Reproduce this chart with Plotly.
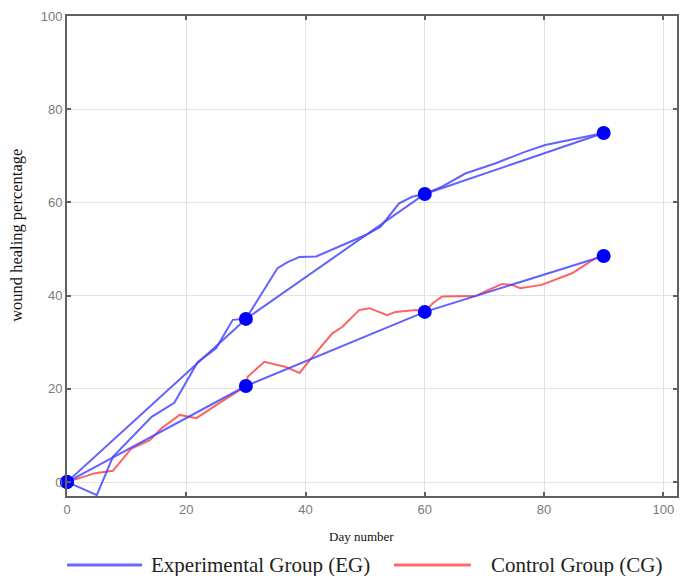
import plotly.graph_objects as go

# ---- data ----
fit_days = [0, 30, 60, 90]
eg_fit = [0, 35.0, 61.8, 74.9]
cg_fit = [0, 20.6, 36.5, 48.5]

eg_curve_days = [0, 5, 7.7, 14.2, 18, 21.9, 25, 27.8, 30, 32.5, 35.3, 37, 39, 41.8,
                 45.6, 50.1, 52.6, 54.5, 55.7, 57.9, 60, 62.9, 66.8, 71.9, 76.9,
                 80.2, 85.2, 90]
eg_curve = [0, -2.8, 5.4, 14.0, 17.0, 25.7, 28.7, 34.8, 35.0, 40.0, 45.9, 47.2, 48.3,
            48.4, 50.5, 53.0, 54.8, 58.0, 59.8, 61.2, 61.8, 63.4, 66.2, 68.4, 70.9,
            72.3, 73.7, 74.9]

cg_curve_days = [0, 4.7, 7.7, 10.8, 13.9, 15.8, 18.9, 21.7, 25, 28.4, 30, 30.3, 33.1,
                 36.7, 39, 41.2, 44.5, 46.2, 49, 50.7, 53.7, 55.1, 58.5, 60, 61.3,
                 62.9, 64.6, 68.5, 70.7, 73, 74.6, 76, 79.6, 81.9, 84.7, 86.9, 88.6, 90]
cg_curve = [0, 1.9, 2.4, 7.2, 9.0, 11.5, 14.4, 13.7, 16.5, 19.4, 20.6, 22.6, 25.8,
            24.7, 23.4, 26.9, 31.9, 33.3, 36.9, 37.3, 35.8, 36.5, 36.9, 36.5, 38.3,
            39.8, 39.8, 39.9, 41.2, 42.5, 42.3, 41.6, 42.3, 43.4, 44.8, 46.6, 48.0, 48.5]

x_ticks = [0, 20, 40, 60, 80, 100]
y_ticks = [0, 20, 40, 60, 80, 100]

legend_names = ["Experimental Group (EG)", "Control Group (CG)"]

BLUE_LINE = "rgba(70,70,255,0.85)"
RED_LINE = "rgba(255,70,70,0.85)"
MARKER = "#0000ff"

fig = go.Figure()
fig.add_trace(go.Scatter(x=cg_curve_days, y=cg_curve, mode="lines",
                         line=dict(color=RED_LINE, width=2), showlegend=False))
fig.add_trace(go.Scatter(x=eg_curve_days, y=eg_curve, mode="lines",
                         line=dict(color=BLUE_LINE, width=2), showlegend=False))
fig.add_trace(go.Scatter(x=fit_days, y=eg_fit, mode="lines",
                         line=dict(color=BLUE_LINE, width=2), showlegend=False))
fig.add_trace(go.Scatter(x=fit_days, y=cg_fit, mode="lines",
                         line=dict(color=BLUE_LINE, width=2), showlegend=False))
fig.add_trace(go.Scatter(x=fit_days, y=eg_fit, mode="markers", cliponaxis=False,
                         marker=dict(color=MARKER, size=14), showlegend=False))
fig.add_trace(go.Scatter(x=fit_days, y=cg_fit, mode="markers", cliponaxis=False,
                         marker=dict(color=MARKER, size=14), showlegend=False))

axis_common = dict(
    showline=True, linecolor="#606060", linewidth=2, mirror="ticks",
    ticks="inside", ticklen=4, tickwidth=1.5, tickcolor="#606060",
    showgrid=True, gridcolor="#e3e3e3", gridwidth=1, zeroline=False,
    tickfont=dict(family="Liberation Sans, Arial, sans-serif", size=13, color="#7a7a7a"),
)

fig.update_xaxes(range=[0, 102.3], tickvals=x_ticks, **axis_common)
fig.update_yaxes(range=[-3, 100], tickvals=y_ticks, **axis_common)

serif = "Liberation Serif, Times New Roman, serif"
annotations = [
    dict(text="Day number", x=0.482, y=-0.085, xref="paper", yref="paper",
         xanchor="center", yanchor="middle",
         showarrow=False, font=dict(family=serif, size=13, color="#111")),
    dict(text="wound healing percentage", x=-0.082, y=0.544, xref="paper", yref="paper",
         xanchor="center", yanchor="middle",
         textangle=-90, showarrow=False, font=dict(family=serif, size=16.5, color="#111")),
    dict(text=legend_names[0], x=0.134, y=-0.144, xref="paper", yref="paper",
         xanchor="left", yanchor="middle",
         showarrow=False, font=dict(family=serif, size=21, color="#222")),
    dict(text=legend_names[1], x=0.691, y=-0.144, xref="paper", yref="paper",
         xanchor="left", yanchor="middle",
         showarrow=False, font=dict(family=serif, size=21, color="#222")),
]
shapes = [
    dict(type="line", xref="paper", yref="paper", x0=0.0, x1=0.123, y0=-0.144, y1=-0.144,
         line=dict(color="rgba(90,90,255,0.9)", width=3)),
    dict(type="line", xref="paper", yref="paper", x0=0.536, x1=0.662, y0=-0.144, y1=-0.144,
         line=dict(color="rgba(255,90,90,0.9)", width=3)),
]

fig.update_layout(
    width=681, height=576,
    margin=dict(l=67, r=2, t=16, b=80),
    plot_bgcolor="white", paper_bgcolor="white",
    annotations=annotations, shapes=shapes,
    showlegend=False,
)

fig.write_html("out.html")
